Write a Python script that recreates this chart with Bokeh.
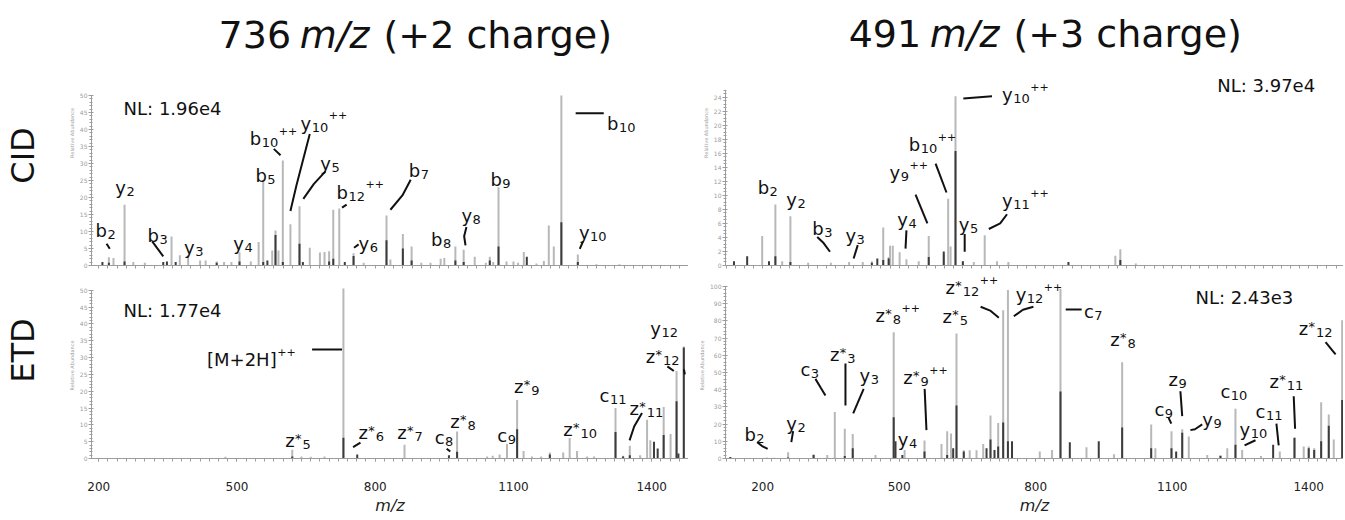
import math
from bokeh.plotting import figure
from bokeh.models import Range1d, FixedTicker, ColumnDataSource
from bokeh.layouts import row, column
from bokeh.embed import file_html
from bokeh.resources import INLINE
from bokeh.core.properties import value, field

FONT = "DejaVu Sans"

# ---------------- data ----------------
# CID of 736 m/z (+2)
cid736_mz = [208, 222, 232, 256, 275, 300, 340, 348, 358, 367, 376, 394, 420, 432, 456, 472, 488,
             505.5, 530, 547, 557, 566, 576.5, 583.6, 590, 599.5, 616, 635.7, 643, 658, 680, 690,
             700, 709, 722, 734, 753, 775, 824.5, 833, 860, 879, 900, 920, 942, 950, 974, 992,
             1016, 1040, 1048.7, 1056, 1067.6, 1085, 1100, 1110, 1122.5, 1129, 1150, 1166,
             1176.7, 1187.6, 1204, 1239.7, 1280, 1330]
cid736_light = [0, 2.4, 2.2, 17.9, 1.0, 0.8, 0, 0, 8.5, 0, 3.0, 3.0, 1.5, 1.5, 1.2, 1.0, 1.0,
                3.9, 1.2, 6.9, 25.0, 0, 4.4, 10.3, 4.4, 30.9, 12.1, 17.4, 0, 5.2, 3.8, 4.0,
                4.2, 16.4, 16.8, 0, 3.6, 0.8, 14.7, 1.8, 9.3, 5.6, 0.8, 0.8, 2.0, 2.2, 5.6, 4.6,
                2.6, 0.8, 2.6, 1.0, 23.0, 1.2, 1.2, 0.8, 4.0, 0, 0.6, 1.3,
                11.8, 5.6, 50.0, 3.2, 0.4, 0.4]
cid736_dark = [1.0, 0.8, 0, 1.2, 0, 0, 1.0, 1.2, 0, 1.0, 0, 0, 0, 0, 0.8, 0, 0,
               1.2, 0, 0, 1.0, 1.5, 0, 9.0, 0, 1.0, 0, 6.4, 1.0, 0, 0, 0,
               1.2, 2.0, 0, 1.0, 2.8, 0, 7.4, 0, 5.0, 1.5, 0, 0, 0, 0, 1.5, 1.0,
               0, 0, 1.5, 0, 5.6, 0, 0, 0, 0, 2.6, 0, 0,
               0, 0, 12.7, 1.0, 0, 0]

# CID of 491 m/z (+3)
cid491_mz = [137, 166, 199, 214, 228, 243, 261, 300, 350, 390, 420, 440, 452, 465, 477, 480, 486,
             501, 516, 543, 565, 598, 607.7, 613, 623.8, 640, 664, 688, 715, 740, 872, 975, 986, 1020]
cid491_light = [0, 0, 4.2, 0, 8.7, 0.6, 7.0, 0.4, 0.4, 0.5, 0.5, 0.6, 0, 5.4, 1.2, 2.8, 2.8,
                1.9, 0.9, 0.6, 4.2, 1.6, 9.5, 2.7, 24.1, 0.6, 0.5, 4.3, 0.6, 0.5, 0, 1.4, 2.3, 0.3]
cid491_dark = [0.6, 1.3, 0, 0.6, 1.3, 0, 0.5, 0, 0, 0, 0, 0.4, 1.0, 0.8, 1.0, 0, 0,
               0, 0, 0, 1.2, 2.0, 0, 0, 16.3, 0.6, 0, 0, 0, 0, 0.5, 0, 0.8, 0]

# ETD of 736 m/z (+2)
etd736_mz = [475, 620, 640, 660, 690, 731, 761, 863.6, 960, 977.7, 1043, 1055, 1070, 1086, 1108,
             1122, 1140, 1160, 1179, 1208, 1222, 1238, 1260, 1275, 1321.5, 1338, 1352.5, 1375,
             1390, 1397, 1405, 1413, 1426, 1441, 1454, 1458, 1469.7]
etd736_light = [0.5, 2.6, 0.6, 0.5, 0.6, 50.5, 0, 4.1, 0, 8.0, 0.6, 0.8, 1.2, 4.3, 17.4,
                2.2, 0.6, 0.6, 1.8, 1.8, 6.1, 2.2, 0.6, 0.6, 15.0, 0.8, 3.8, 1.0,
                11.5, 5.4, 0, 0, 15.3, 7.3, 26.0, 0, 33.3]
etd736_dark = [0, 0.6, 0, 0, 0, 6.2, 1.2, 0, 1.0, 2.0, 0, 0, 0, 0, 8.7,
               0, 0, 0, 1.2, 0, 0, 0, 0, 0, 7.9, 0.6, 1.0, 0,
               0, 0, 5.0, 3.0, 7.0, 0, 17.0, 1.5, 33.0]

# ETD of 491 m/z (+3)
etd491_mz = [129, 209, 225, 256, 312, 342, 358.6, 380.5, 398, 448, 488, 492, 507, 512, 555.7,
             593, 605.5, 614, 618.7, 626, 642, 655, 670, 684.7, 692, 700.7, 709.5, 717.6, 728.6,
             739, 748, 809, 836, 854.5, 875, 911.6, 938.6, 972, 990, 1053.8, 1063, 1098.4, 1108.7,
             1122, 1136.4, 1177, 1206, 1221, 1239, 1253.7, 1295, 1321.8, 1336.4, 1368.7, 1389,
             1400, 1412, 1427.3, 1444, 1455, 1473.5]
etd491_light = [0, 0.6, 0.5, 3.7, 2.5, 2.0, 27.0, 17.3, 14.3, 2.0, 73.4, 0, 0, 5.0, 10.5,
                8.5, 15.9, 14.5, 0, 72.7, 4.8, 4.8, 4.8, 8.5, 0, 25.0, 0, 20.7, 86.2,
                98.0, 0, 4.0, 5.0, 98.7, 0, 6.5, 0, 2.5, 56.0, 19.8, 6.0, 15.9, 0,
                17.0, 12.8, 2.0, 2.0, 6.0, 28.9, 5.0, 1.5, 0, 4.0, 12.0, 7.0,
                7.0, 6.0, 32.7, 25.6, 11.0, 80.4]
etd491_dark = [0.8, 0, 0, 0.6, 2.0, 0, 0, 1.5, 6.0, 0, 24.0, 10.0, 2.0, 0, 4.0,
               0, 2.0, 0, 6.0, 30.8, 4.0, 0, 0, 0, 6.0, 11.0, 5.0, 7.0, 21.0,
               10.0, 10.0, 0, 0, 39.0, 9.5, 0, 10.0, 0, 18.0, 6.0, 0, 6.0, 4.0,
               15.0, 0, 0, 1.5, 0, 8.0, 0, 0, 8.0, 0, 12.0, 0,
               6.0, 5.0, 10.0, 19.0, 0, 34.0]

x_major_ticks = [200, 500, 800, 1100, 1400]
title_left_text = ["736", "m/z", "(+2 charge)"]
title_right_text = ["491", "m/z", "(+3 charge)"]
row_names = ["CID", "ETD"]

# ---------------- annotations: (base, star, subscript, superscript, m/z, intensity) ----------------
labels_A = [
    ("NL: 1.96e4", False, "", "", 254, 46.1),
    ("b", False, "2", "", 193, 10.3),
    ("y", False, "2", "", 236, 23.0),
    ("b", False, "3", "", 306, 8.8),
    ("y", False, "3", "", 385, 5.4),
    ("y", False, "4", "", 492, 6.4),
    ("b", False, "5", "", 540, 26.5),
    ("b", False, "10", "++", 528, 37.3),
    ("y", False, "10", "++", 638, 41.9),
    ("y", False, "5", "", 681, 30.1),
    ("b", False, "12", "++", 716, 21.6),
    ("y", False, "6", "", 764, 6.4),
    ("b", False, "7", "", 873, 27.9),
    ("b", False, "8", "", 921, 7.6),
    ("y", False, "8", "", 987, 14.7),
    ("b", False, "9", "", 1050, 25.2),
    ("b", False, "10", "", 1303, 41.9),
    ("y", False, "10", "", 1242, 9.8),
]
leaders_A = [
    ([217, 224], [6.4, 4.9]),
    ([316, 340], [7.1, 2.7]),
    ([580, 594.5], [34.3, 32.4]),
    ([658, 629, 616], [38.7, 23.5, 16.0]),
    ([692, 667, 644], [27.7, 24.0, 19.6]),
    ([738, 728], [17.9, 17.0]),
    ([764, 754], [6.2, 5.2]),
    ([877, 859, 833], [25.2, 20.6, 16.4]),
    ([998, 993, 996], [11.3, 8.6, 5.9]),
    ([1235, 1296], [44.8, 44.8]),
    ([1251, 1244], [7.1, 4.9]),
]

labels_B = [
    ("NL: 3.97e4", False, "", "", 1199, 25.6),
    ("b", False, "2", "", 189, 11.1),
    ("y", False, "2", "", 252, 9.45),
    ("b", False, "3", "", 309, 5.2),
    ("y", False, "3", "", 382, 4.3),
    ("y", False, "4", "", 496, 6.6),
    ("y", False, "9", "++", 479, 13.2),
    ("b", False, "10", "++", 521, 17.2),
    ("y", False, "10", "++", 726, 24.3),
    ("y", False, "5", "", 631, 5.9),
    ("y", False, "11", "++", 726, 9.2),
]
leaders_B = [
    ([320, 334, 348], [4.07, 3.2, 1.96]),
    ([409, 400], [2.9, 1.0]),
    ([516, 514], [5.0, 2.4]),
    ([536, 562], [10.1, 6.0]),
    ([580, 604], [14.5, 10.4]),
    ([641, 704], [23.8, 24.1]),
    ([644, 644], [4.5, 1.96]),
    ([697, 722, 737], [5.2, 6.0, 7.3]),
]

labels_C = [
    ("NL: 1.77e4", False, "", "", 254, 44.1),
    ("[M+2H]", False, "", "++", 435, 29.4),
    ("z", True, "5", "", 605, 5.4),
    ("z", True, "6", "", 764, 7.6),
    ("z", True, "7", "", 848, 7.6),
    ("c", False, "8", "", 929, 6.1),
    ("z", True, "8", "", 963, 11.0),
    ("c", False, "9", "", 1065, 6.7),
    ("z", True, "9", "", 1101, 21.4),
    ("z", True, "10", "", 1208, 8.6),
    ("c", False, "11", "", 1287, 18.6),
    ("z", True, "11", "", 1352, 14.9),
    ("z", True, "12", "", 1387, 30.4),
    ("y", False, "12", "", 1397, 38.7),
]
leaders_C = [
    ([663, 728], [32.4, 32.4]),
    ([768, 752], [4.7, 3.4]),
    ([955, 963], [2.9, 2.1]),
    ([1379, 1362, 1352], [13.5, 9.5, 5.4]),
    ([1434, 1448], [27.4, 26.0]),
    ([1470, 1472], [26.5, 25.0]),
]

labels_D = [
    ("NL: 2.43e3", False, "", "", 1151, 93.4),
    ("b", False, "2", "", 160, 14.0),
    ("y", False, "2", "", 252, 20.3),
    ("c", False, "3", "", 283, 51.7),
    ("z", True, "3", "", 348, 60.5),
    ("y", False, "3", "", 413, 48.3),
    ("z", True, "8", "++", 448, 83.1),
    ("z", True, "9", "++", 509, 46.9),
    ("y", False, "4", "", 497, 11.0),
    ("z", True, "12", "++", 602, 99.2),
    ("z", True, "5", "", 595, 82.7),
    ("y", False, "12", "++", 756, 95.3),
    ("c", False, "7", "", 906, 85.6),
    ("z", True, "8", "", 964, 69.2),
    ("z", False, "9", "", 1092, 45.9),
    ("c", False, "9", "", 1061, 28.5),
    ("y", False, "9", "", 1166, 22.7),
    ("c", False, "10", "", 1206, 39.1),
    ("c", False, "11", "", 1283, 27.5),
    ("y", False, "10", "", 1248, 16.9),
    ("z", True, "11", "", 1314, 45.0),
    ("z", True, "12", "", 1378, 75.4),
]
leaders_D = [
    ([188, 200, 211], [9.5, 7.0, 5.6]),
    ([267, 263], [15.9, 9.5]),
    ([316, 328, 338], [46.3, 41.0, 36.6]),
    ([382, 382], [55.2, 30.8]),
    ([422, 399], [40.5, 26.2]),
    ([556, 560], [40.5, 16.5]),
    ([679, 700, 719], [88.2, 86.0, 81.8]),
    ([752, 772, 795], [82.7, 86.5, 88.2]),
    ([866, 901], [86.6, 86.6]),
    ([1118, 1122], [39.1, 24.6]),
    ([1092, 1098], [23.7, 20.3]),
    ([1166, 1150, 1140], [19.8, 17.0, 16.5]),
    ([1329, 1334], [20.3, 7.6]),
    ([1283, 1259], [10.6, 7.6]),
    ([1367, 1370], [36.2, 17.3]),
    ([1437, 1459], [67.6, 60.5]),
]

# ---------------- helpers ----------------
CW = {'b': .635, 'c': .55, 'y': .592, 'z': .525, '+': .838, '*': .5, '[': .39, ']': .39,
      'M': .863, 'H': .752, 'N': .748, 'L': .557, ':': .337, ' ': .318, '.': .318, 'e': .615}


def tw(s, size):
    return sum(CW.get(ch, .636) for ch in s) * size


def label_source(labels):
    d = dict(x=[], y=[], text=[], size=[], xo=[], yo=[])

    def add(t, x, y, sz, xo, yo):
        d["x"].append(x); d["y"].append(y); d["text"].append(t)
        d["size"].append(f"{sz}px"); d["xo"].append(xo); d["yo"].append(yo)

    for base, star, sub, sup, x, y in labels:
        add(base, x, y, 18, 0, 0)
        cur = tw(base, 18)
        if star:
            add("*", x, y, 13, cur + 0.3, -2)
            cur += tw("*", 13) + 0.8
        if sub:
            add(sub, x, y, 13, cur + 0.5, 4)
            cur += tw(sub, 13) + 0.5
        if sup:
            add(sup, x, y, 11, cur + 0.5, -8)
    return ColumnDataSource(d)


AX = "#9c9c9c"


def spectrum(xr, yr, w, h, mbl, mbb, ybound, yticks, yminor, xticks, labelled,
             mz, light, dark, labels, leaders, title=None):
    p = figure(title=None, width=w, height=h, x_range=Range1d(*xr), y_range=Range1d(*yr),
               output_backend="svg", toolbar_location=None,
               min_border_left=mbl, min_border_right=0, min_border_top=0, min_border_bottom=mbb,
               outline_line_color=None, background_fill_color="white")
    p.xgrid.visible = False
    p.ygrid.visible = False

    ya = p.yaxis[0]
    ya.ticker = FixedTicker(ticks=yticks, minor_ticks=yminor)
    ya.bounds = (0, ybound)
    ya.axis_line_color = AX
    ya.major_tick_line_color = AX
    ya.minor_tick_line_color = AX
    ya.major_tick_in = 2
    ya.major_tick_out = 3
    ya.minor_tick_in = 1
    ya.minor_tick_out = 2
    ya.major_label_text_font = FONT
    ya.major_label_text_font_size = "6px"
    ya.major_label_text_color = AX
    ya.major_label_standoff = 1
    ya.axis_label = "Relative Abundance"
    ya.axis_label_text_font = FONT
    ya.axis_label_text_font_size = "5px"
    ya.axis_label_text_font_style = "normal"
    ya.axis_label_text_color = AX
    ya.axis_label_standoff = 2

    xa = p.xaxis[0]
    minor = list(range(120, 1481, 20))
    xa.ticker = FixedTicker(ticks=xticks, minor_ticks=minor)
    xa.axis_line_color = AX
    xa.major_tick_line_color = AX
    xa.minor_tick_line_color = AX
    xa.major_tick_in = 0
    xa.major_tick_out = 3
    xa.minor_tick_in = 0
    xa.minor_tick_out = 3
    if labelled:
        xa.major_label_text_font = FONT
        xa.major_label_text_font_size = "12px"
        xa.major_label_text_color = "#222222"
        xa.major_label_standoff = 20
        xa.axis_label = "m/z"
        xa.axis_label_text_font = FONT
        xa.axis_label_text_font_size = "16px"
        xa.axis_label_text_font_style = "italic"
        xa.axis_label_text_color = "#222222"
        xa.axis_label_standoff = 2

    src = ColumnDataSource(dict(mz=mz, light=light, dark=dark))
    p.segment(x0="mz", y0=0, x1="mz", y1="light", source=src, line_color="#b8b8b8", line_width=2)
    p.segment(x0="mz", y0=0, x1="mz", y1="dark", source=src, line_color="#3c3c3c", line_width=2)

    p.multi_line(xs=[l[0] for l in leaders], ys=[l[1] for l in leaders],
                 line_color="#111111", line_width=2)

    p.text(x="x", y="y", text="text", source=label_source(labels),
           text_font=value(FONT), text_font_size=field("size"),
           x_offset=field("xo"), y_offset=field("yo"),
           text_align="left", text_baseline="alphabetic", text_color="#111111")

    if title is not None:
        words, tx, ty = title
        p.text(x="x", y="y", text="t", source=ColumnDataSource(dict(
            x=tx, y=[ty] * len(words), t=words, s=["normal", "italic", "normal"])),
            text_font=value(FONT), text_font_size="38px", text_font_style=field("s"),
            text_align="left", text_baseline="alphabetic", text_color="#111111")
    return p


# the page itself has no margin: the layout starts at the window's top-left corner
LEFT_X = (184.3, 1479.9)
RIGHT_X = (118.4, 1476.4)

cidL = spectrum(LEFT_X, (0, 77.94), 637, 272, 40, 7, 50,
                list(range(0, 51, 5)), list(range(0, 51, 1)), [], False,
                cid736_mz, cid736_light, cid736_dark, labels_A, leaders_A,
                title=(title_left_text, [460, 636, 818], 67.94))
cidR = spectrum(RIGHT_X, (0, 37.75), 655, 272, 37, 3, 25,
                list(range(0, 25, 2)), [i * 0.5 for i in range(0, 51)], [], False,
                cid491_mz, cid491_light, cid491_dark, labels_B, leaders_B,
                title=(title_right_text, [389, 567, 751], 32.98))
etdL = spectrum(LEFT_X, (0, 55.29), 637, 246, 40, 58, 50,
                list(range(0, 51, 5)), list(range(0, 51, 1)), x_major_ticks, True,
                etd736_mz, etd736_light, etd736_dark, labels_C, leaders_C)
etdR = spectrum(RIGHT_X, (0, 108.14), 655, 246, 37, 60, 100,
                list(range(0, 101, 10)), list(range(0, 101, 2)), x_major_ticks, True,
                etd491_mz, etd491_light, etd491_dark, labels_D, leaders_D)

# side strip with the row names
side = figure(title=None, width=51, height=518, x_range=Range1d(0, 51), y_range=Range1d(0, 518),
              x_axis_type=None, y_axis_type=None, output_backend="svg", toolbar_location=None,
              min_border_left=0, min_border_right=0, min_border_top=0, min_border_bottom=0,
              outline_line_color=None)
side.xgrid.visible = False
side.ygrid.visible = False
side.text(x=[22, 22], y=[363, 168], text=row_names, angle=math.pi / 2,
          text_font=value(FONT), text_font_size="32px",
          text_align="center", text_baseline="middle", text_color="#111111")

layout = row(side, column(row(cidL, cidR), row(etdL, etdR)))

open("out.html", "w").write(file_html(layout, INLINE))
